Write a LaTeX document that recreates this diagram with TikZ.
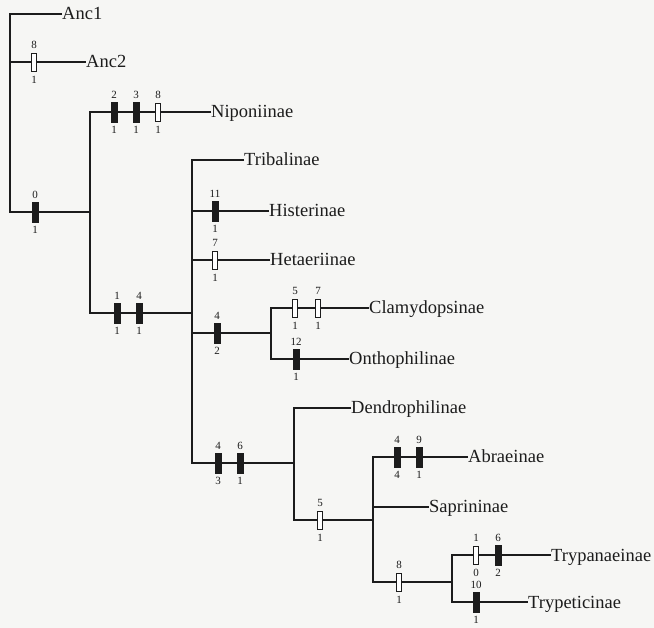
\documentclass[tikz,border=0pt]{standalone}
\usepackage{fontspec}
\setmainfont{Liberation Serif}
\definecolor{ink}{RGB}{28,28,28}
\definecolor{paper}{RGB}{246,246,244}
\newcommand\mk[6]{%
  \node[#2] (#1) at (#3,#4) {};
  \node[num] (#1t) at (#3,#4-17) {#5};
  \node[num] (#1b) at (#3,#4+18) {#6};}
\begin{document}
\begin{tikzpicture}[x=1pt,y=-1pt,
  br/.style={draw=ink,line width=1.4pt},
  blk/.style={draw=ink,fill=ink,minimum width=6pt,minimum height=20pt,inner sep=0pt},
  opn/.style={draw=ink,fill=white,line width=0.6pt,minimum width=5.5pt,minimum height=18pt,inner sep=0pt},
  lab/.style={anchor=west,inner sep=0pt,text height=12pt,text depth=0pt,text=ink,font=\fontsize{18.5}{20}\selectfont},
  num/.style={inner sep=0pt,text=ink,font=\fontsize{11}{12}\selectfont}]
\useasboundingbox[fill=paper] (0,0) rectangle (654,628);
% labels
\node[lab] (anc1) at (62,14) {Anc1};
\node[lab] (anc2) at (86,62) {Anc2};
\node[lab] (nip) at (211,112) {Niponiinae};
\node[lab] (trib) at (244,160) {Tribalinae};
\node[lab] (hist) at (269,211) {Histerinae};
\node[lab] (het) at (270,260) {Hetaeriinae};
\node[lab] (clam) at (369,308) {Clamydopsinae};
\node[lab] (onth) at (349,359) {Onthophilinae};
\node[lab] (dend) at (351,408) {Dendrophilinae};
\node[lab] (abr) at (468,457) {Abraeinae};
\node[lab] (sap) at (429,507) {Saprininae};
\node[lab] (tryp) at (551,555) {Trypanaeinae};
\node[lab] (trypt) at (528,602) {Trypeticinae};
% internal points
\coordinate (ra2) at (10,62);
\coordinate (rb) at (10,212);
\coordinate (n1) at (90,212);
\coordinate (n1b) at (90,313);
\coordinate (n2) at (192,313);
\coordinate (n2h) at (192,211);
\coordinate (n2e) at (192,260);
\coordinate (n2c) at (192,333);
\coordinate (n2b) at (192,463);
\coordinate (n3) at (271,333);
\coordinate (n3b) at (271,359);
\coordinate (n4) at (294,463);
\coordinate (n4b) at (294,520);
\coordinate (n5) at (373,520);
\coordinate (n5s) at (373,507);
\coordinate (n5b) at (373,582);
\coordinate (n6) at (452,582);
\coordinate (n6b) at (452,602);
% branches
\draw[br] (anc1.west) -| (rb) -- (n1);
\draw[br] (ra2) -- (anc2.west);
\draw[br] (nip.west) -| (n1b) -- (n2);
\draw[br] (trib.west) -| (n2b) -- (n4);
\draw[br] (n2h) -- (hist.west);
\draw[br] (n2e) -- (het.west);
\draw[br] (n2c) -- (n3);
\draw[br] (clam.west) -| (n3b) -- (onth.west);
\draw[br] (dend.west) -| (n4b) -- (n5);
\draw[br] (abr.west) -| (n5b) -- (n6);
\draw[br] (n5s) -- (sap.west);
\draw[br] (tryp.west) -| (n6b) -- (trypt.west);
% character markers
\mk{a2}{opn}{34}{62}{8}{1}
\mk{r0}{blk}{35}{212}{0}{1}
\mk{p2}{blk}{114}{112}{2}{1}
\mk{p3}{blk}{136}{112}{3}{1}
\mk{p8}{opn}{158}{112}{8}{1}
\mk{b1}{blk}{117}{313}{1}{1}
\mk{b4}{blk}{139}{313}{4}{1}
\mk{h11}{blk}{215}{211}{11}{1}
\mk{e7}{opn}{215}{260}{7}{1}
\mk{c4}{blk}{217}{333}{4}{2}
\mk{c5}{opn}{295}{308}{5}{1}
\mk{c7}{opn}{318}{308}{7}{1}
\mk{o12}{blk}{296}{359}{12}{1}
\mk{d4}{blk}{218}{463}{4}{3}
\mk{d6}{blk}{240}{463}{6}{1}
\mk{s5}{opn}{320}{520}{5}{1}
\mk{ab4}{blk}{397}{457}{4}{4}
\mk{ab9}{blk}{419}{457}{9}{1}
\mk{t8}{opn}{399}{582}{8}{1}
\mk{ty1}{opn}{476}{555}{1}{0}
\mk{ty6}{blk}{498}{555}{6}{2}
\mk{tt10}{blk}{476}{602}{10}{1}
\end{tikzpicture}
\end{document}
